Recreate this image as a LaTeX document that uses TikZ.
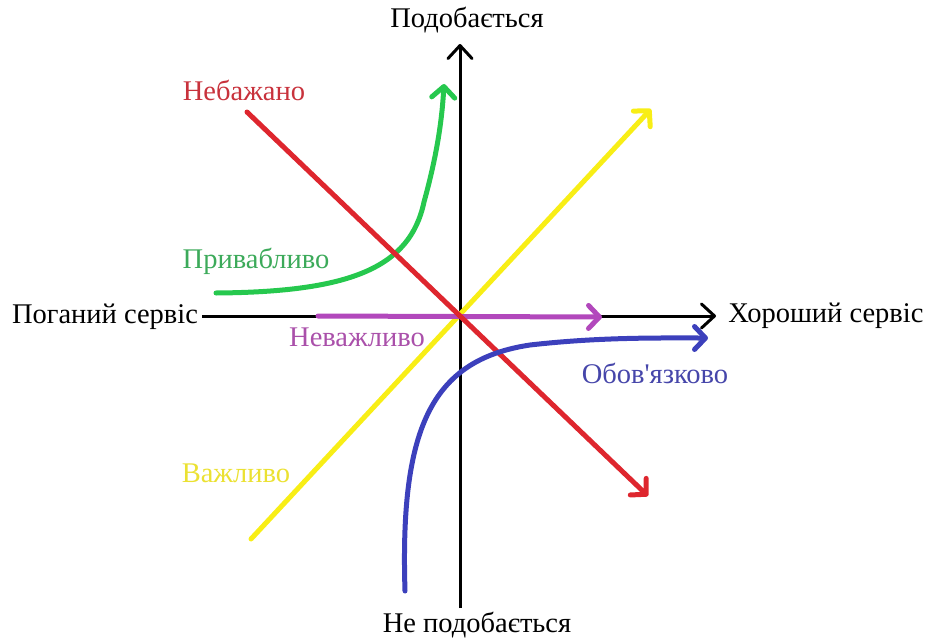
\documentclass[tikz,border=0pt]{standalone}
\usepackage{fontspec}
\setmainfont{Liberation Serif}
\usetikzlibrary{arrows.meta}
\definecolor{cred}{RGB}{222,38,46}
\definecolor{cgreen}{RGB}{38,200,78}
\definecolor{cyellow}{RGB}{248,238,22}
\definecolor{cpurple}{RGB}{178,72,188}
\definecolor{cblue}{RGB}{60,64,188}
\definecolor{tred}{RGB}{200,50,60}
\definecolor{tgreen}{RGB}{60,170,90}
\definecolor{tyellow}{RGB}{235,225,50}
\definecolor{tpurple}{RGB}{170,80,170}
\definecolor{tblue}{RGB}{70,70,170}
\tikzset{
  lbl/.style={font=\fontsize{28.5}{32}\selectfont, inner sep=0pt},
  axisline/.style={line width=3pt, -{Straight Barb[length=13pt,width=24pt,round]}},
  curveline/.style={line width=5pt, line cap=round, -{Straight Barb[length=11pt,width=23pt,round]}}
}
\begin{document}
\begin{tikzpicture}[x=1pt,y=-1pt]
\useasboundingbox (0,0) rectangle (927,640);
% labels
\node[lbl] (up) at (467,20) {Подобається};
\node[lbl] (down) at (477,625) {Не подобається};
\node[lbl] (bad) at (105,317) {Поганий сервіс};
\node[lbl] (good) at (826,316) {Хороший сервіс};
\node[lbl, text=tred] (lred) at (244,90) {Небажано};
\node[lbl, text=tgreen] (lgreen) at (256,261) {Привабливо};
\node[lbl, text=tyellow] (lyellow) at (236,473) {Важливо};
\node[lbl, text=tpurple] (lpurple) at (357,337) {Неважливо};
\node[lbl, text=tblue] (lblue) at (655,373) {Обов\textquotesingle язково};
% coordinates
\coordinate (vb) at (460,608);
\coordinate (vt) at (460,44);
\coordinate (hl) at (202,316);
\coordinate (hr) at (716,316);
\coordinate (rs) at (247,112);
\coordinate (re) at (648,496);
\coordinate (ys) at (251,539);
\coordinate (ye) at (651,109);
\coordinate (ps) at (318,316);
\coordinate (pe) at (602,317);
\coordinate (gs) at (216,293);
\coordinate (gm) at (424,202);
\coordinate (ge) at (444,84);
\coordinate (bs) at (405,591);
\coordinate (bm) at (530,345);
\coordinate (be) at (708,338);
% axes
\draw[axisline] (vb) -- (vt);
\draw[axisline] (hl) -- (hr);
% curves
\draw[curveline, cyellow] (ys) -- (ye);
\draw[curveline, cpurple] (ps) -- (pe);
\draw[curveline, cgreen] (gs) .. controls (350,292) and (410,268) .. (gm) .. controls (437,155) and (442,120) .. (ge);
\draw[curveline, cred] (rs) -- (re);
\draw[curveline, cblue] (bs) .. controls (400,430) and (430,360) .. (bm) .. controls (600,337) and (660,338) .. (be);
\end{tikzpicture}
\end{document}
